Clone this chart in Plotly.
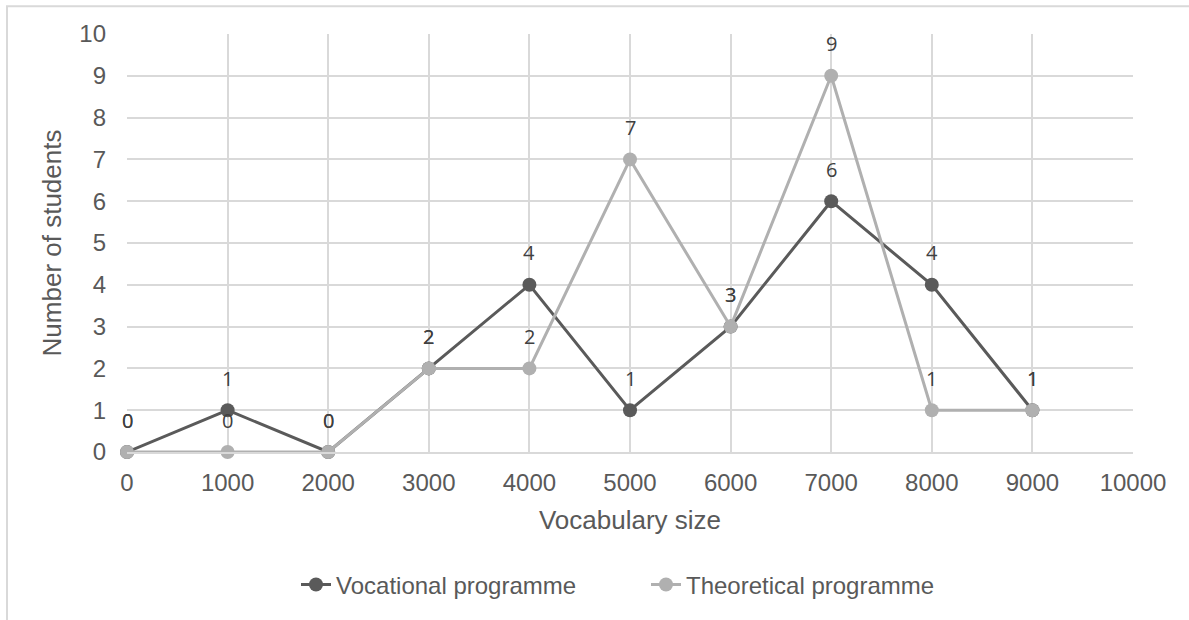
import plotly.graph_objects as go

vocab_size = [0, 1000, 2000, 3000, 4000, 5000, 6000, 7000, 8000, 9000]
vocational = [0, 1, 0, 2, 4, 1, 3, 6, 4, 1]
theoretical = [0, 0, 0, 2, 2, 7, 3, 9, 1, 1]
x_ticks = list(range(0, 10001, 1000))
y_ticks = list(range(0, 11))

DARK = "#5a5a5a"
LIGHT = "#b0b0b0"
GRID = "#d9d9d9"
TXT = "#595959"
AX_FONT = "Liberation Sans, Arial, sans-serif"
LBL_FONT = "Open Sans, sans-serif"

fig = go.Figure()
series = [
    ("Vocational programme", vocational, DARK),
    ("Theoretical programme", theoretical, LIGHT),
]
for name, vals, col in series:
    fig.add_trace(go.Scatter(
        x=vocab_size, y=vals, name=name, mode="lines+markers",
        line=dict(color=col, width=3), marker=dict(color=col, size=14),
        cliponaxis=False,
    ))

# data labels above each point
annotations = []
for name, vals, col in series:
    for xv, yv in zip(vocab_size, vals):
        annotations.append(dict(
            x=xv, y=yv, xref="x", yref="y", text=str(yv), showarrow=False,
            yshift=32, yanchor="middle", xanchor="center",
            font=dict(family=LBL_FONT, size=20, color="#404040"),
        ))

fig.update_layout(
    width=1189, height=620,
    margin=dict(l=127, r=56, t=34, b=166),
    paper_bgcolor="white", plot_bgcolor="white",
    font=dict(family=AX_FONT, size=24, color=TXT),
    showlegend=True,
    annotations=annotations,
    legend=dict(orientation="h", x=(296 - 127) / 1006, xanchor="left", y=-0.318, yanchor="middle",
                font=dict(family=AX_FONT, size=24, color=TXT), itemwidth=30,
                entrywidth=305, entrywidthmode="pixels",
                traceorder="normal"),
    xaxis=dict(
        range=[0, 10000], tickvals=x_ticks, ticktext=[str(t) for t in x_ticks],
        showgrid=True, gridcolor=GRID, gridwidth=2, zeroline=False,
        showline=True, linecolor=GRID, linewidth=2, mirror=False,
        ticks="", ticklabelstandoff=8,
        title=dict(text="Vocabulary size", font=dict(size=26, color=TXT), standoff=16),
        tickfont=dict(size=24, color=TXT),
    ),
    yaxis=dict(
        range=[0, 10], tickvals=y_ticks, ticktext=[str(t) for t in y_ticks],
        showgrid=True, gridcolor=GRID, gridwidth=2, zeroline=False,
        showline=False, ticks="", ticklabelstandoff=20,
        title=dict(text="Number of students", font=dict(size=26, color=TXT), standoff=10),
        tickfont=dict(size=24, color=TXT),
    ),
)

# outer chart-area border (left and top edges visible, rest outside the picture)
fig.add_shape(type="rect", xref="paper", yref="paper",
              x0=(7 - 127) / 1006, x1=1.2, y0=-0.6, y1=1 + (34 - 6) / 420,
              line=dict(color=GRID, width=2), fillcolor="rgba(0,0,0,0)", layer="below")

fig.write_html("out.html")
